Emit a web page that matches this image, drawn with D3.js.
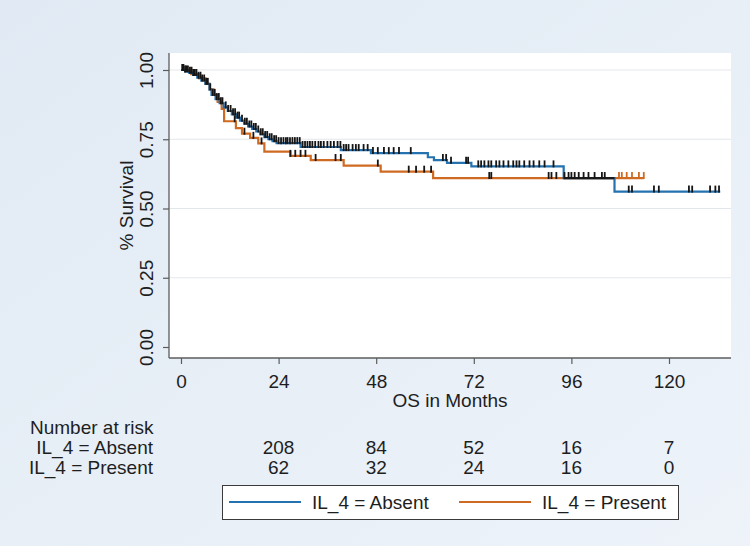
<!DOCTYPE html>
<html>
<head>
<meta charset="utf-8">
<script src="https://cdn.jsdelivr.net/npm/d3@7"></script>
<style>
  html, body { margin: 0; padding: 0; }
  svg { display: block; font-family: "Liberation Sans", Arial, sans-serif; }
</style>
</head>
<body>
<script>
// Kaplan-Meier steps (months, survival after the drop)
const absentTimes = [0, 1, 2, 3, 4, 5, 6, 7, 7.5, 8.5, 9.5, 10.5, 11.5, 12.5, 13.5, 14.5, 15.5, 16.5, 17.5, 18.5, 19.5, 20.5, 21.5, 22.5, 23.5, 29.4, 39.3, 46.7, 60.7, 62.2, 65.4, 71.4, 94.1, 106.6];
const absentSurv = [1.00, 0.995, 0.99, 0.982, 0.972, 0.962, 0.95, 0.93, 0.91, 0.895, 0.88, 0.865, 0.852, 0.84, 0.828, 0.817, 0.806, 0.796, 0.787, 0.778, 0.768, 0.758, 0.75, 0.743, 0.736, 0.722, 0.711, 0.70, 0.685, 0.675, 0.665, 0.652, 0.61, 0.561];
const absentEnd = 132.6;

const presentTimes = [0, 2.5, 4.5, 6, 7, 8, 9, 10, 10.6, 13.5, 15, 17, 19, 20.5, 26.9, 31.9, 40, 49.1, 62];
const presentSurv = [1.00, 0.985, 0.97, 0.95, 0.93, 0.91, 0.885, 0.86, 0.815, 0.79, 0.77, 0.755, 0.735, 0.705, 0.69, 0.675, 0.655, 0.633, 0.61];
const presentEnd = 113.8;

// censoring times (months)
const absentCensor = [0.3, 0.6, 1, 1.3, 1.7, 2.2, 2.6, 3, 3.4, 3.8, 4.3, 4.8, 5.2, 5.7, 6.2, 6.6, 7.2, 7.8, 8.3, 8.8, 9.3, 9.8, 10.2, 11, 11.6, 12.2, 12.8, 13.3, 13.9, 14.3, 15, 15.7, 16.2, 16.8, 17.3, 17.9, 18.4, 19, 19.6, 20.1, 20.7, 21.2, 21.8, 22.3, 22.9, 23.4, 24, 24.6, 25.2, 25.8, 26.2, 26.8, 27.4, 28, 28.6, 29.2, 29.9, 30.5, 31.1, 31.7, 32.3, 33, 33.8, 34.4, 35.1, 36, 36.8, 37.6, 38.5, 39.2, 40, 40.6, 41.2, 42.2, 43, 43.7, 44.9, 45.9, 47.2, 48.4, 49.9, 51.1, 52.3, 53.6, 56.5, 64.4, 65.2, 66.4, 70.1, 70.6, 73.1, 73.8, 74.6, 75.6, 76.3, 77.5, 78.3, 79.3, 80.5, 81.7, 82.5, 83.2, 84.4, 85.7, 86.7, 88.1, 89.4, 91.6, 94.3, 95.3, 96, 96.8, 97.8, 99, 100.2, 101.7, 103.5, 104.2, 110.1, 110.9, 116.3, 117.5, 124.9, 125.7, 130.1, 131.4, 132.3];
const presentCensor = [13.2, 15.6, 17.8, 19.8, 26.9, 28.1, 29.4, 30.6, 33.1, 38, 39.3, 48.4, 56, 57.8, 59.8, 61.5, 75.8, 76.3, 90.4, 91.1, 92.3, 107.7, 108.4, 109.6, 110.9, 112.6, 113.8];

// number at risk table
const riskTimes = [24, 48, 72, 96, 120];
const riskAbsent = [208, 84, 52, 16, 7];
const riskPresent = [62, 32, 24, 16, 0];

const xTicks = [0, 24, 48, 72, 96, 120];
const yTicks = [0, 0.25, 0.5, 0.75, 1];
const groupLabels = ['IL_4 = Absent', 'IL_4 = Present'];

const BLUE = '#2472b0';
const ORANGE = '#cf6a22';
const FS = 19;

function start() {
    const width = 750, height = 546;
    const plot = {left: 169, right: 731, top: 53, bottom: 358};

    const x = d3.scaleLinear().domain([0, 120]).range([181, 669]);
    const y = d3.scaleLinear().domain([0, 1]).range([347, 70]);

    const svg = d3.select('body').append('svg')
        .attr('width', width)
        .attr('height', height);

    const grad = svg.append('defs').append('linearGradient')
        .attr('id', 'bg').attr('x1', 0).attr('y1', 0).attr('x2', 1).attr('y2', 1);
    grad.append('stop').attr('offset', '0%').attr('stop-color', '#e1eaf4');
    grad.append('stop').attr('offset', '100%').attr('stop-color', '#edf3f9');

    svg.append('rect').attr('width', width).attr('height', height).attr('fill', 'url(#bg)');
    svg.append('rect')
        .attr('x', plot.left).attr('y', plot.top)
        .attr('width', plot.right - plot.left).attr('height', plot.bottom - plot.top)
        .attr('fill', '#fff');

    // grid
    svg.append('g').selectAll('line')
        .data(yTicks.filter(d => d > 0))
        .enter().append('line')
        .attr('x1', plot.left).attr('x2', plot.right)
        .attr('y1', d => y(d)).attr('y2', d => y(d))
        .attr('stroke', '#e4e7ea').attr('stroke-width', 1);

    // axes
    const yAxis = d3.axisLeft(y).tickValues(yTicks).tickFormat(d3.format('.2f')).tickSize(6).tickPadding(9);
    const gy = svg.append('g').attr('transform', 'translate(' + plot.left + ',0)').call(yAxis);
    gy.select('.domain').attr('d', 'M0,' + plot.top + 'V' + plot.bottom);
    gy.selectAll('.tick text')
        .attr('transform', 'rotate(-90)')
        .attr('x', 0).attr('y', -16)
        .attr('dy', '0')
        .attr('text-anchor', 'middle');

    const xAxis = d3.axisBottom(x).tickValues(xTicks).tickSize(6).tickPadding(8);
    const gx = svg.append('g').attr('transform', 'translate(0,' + plot.bottom + ')').call(xAxis);
    gx.select('.domain').attr('d', 'M' + plot.left + ',0H' + plot.right);
    gx.selectAll('.tick text').attr('dy', '0').attr('y', 30);

    svg.selectAll('.domain').attr('stroke', '#5c5c5c').attr('stroke-width', 1.3);
    svg.selectAll('.tick line').attr('stroke', '#5c5c5c').attr('stroke-width', 1.2);
    svg.selectAll('.tick text')
        .attr('font-size', FS).attr('fill', '#1e1e1e')
        .attr('font-family', '"Liberation Sans", Arial, sans-serif');

    svg.append('text')
        .attr('transform', 'translate(133,' + ((plot.top + plot.bottom) / 2) + ') rotate(-90)')
        .attr('text-anchor', 'middle')
        .attr('font-size', FS).attr('fill', '#1e1e1e')
        .text('% Survival');

    svg.append('text')
        .attr('x', 450).attr('y', 407)
        .attr('text-anchor', 'middle')
        .attr('font-size', FS).attr('fill', '#1e1e1e')
        .text('OS in Months');

    // step curves
    function steps(times, surv, end) {
        const pts = times.map((t, i) => [t, surv[i]]);
        pts.push([end, surv[surv.length - 1]]);
        return pts;
    }
    function valueAt(times, surv, end, t) {
        if (t > end) return null;
        let v = surv[0];
        for (let i = 0; i < times.length; i++) if (times[i] <= t) v = surv[i];
        return v;
    }

    const line = d3.line().curve(d3.curveStepAfter).x(d => x(d[0])).y(d => y(d[1]));

    const curves = svg.append('g').attr('fill', 'none').attr('stroke-width', 2.2);
    curves.append('path')
        .attr('d', line(steps(presentTimes, presentSurv, presentEnd)))
        .attr('stroke', ORANGE);
    curves.append('path')
        .attr('d', line(steps(absentTimes, absentSurv, absentEnd)))
        .attr('stroke', BLUE);

    // where both curves run at the same level the overlap shows dark
    const allT = Array.from(new Set(absentTimes.concat(presentTimes))).sort((a, b) => a - b);
    const overlap = [];
    allT.forEach((t, i) => {
        const t2 = i < allT.length - 1 ? allT[i + 1] : Math.min(absentEnd, presentEnd);
        const a = valueAt(absentTimes, absentSurv, absentEnd, t);
        const p = valueAt(presentTimes, presentSurv, presentEnd, t);
        if (t > 30 && a !== null && a === p) overlap.push([t, t2, a]);
    });
    curves.append('g').selectAll('line')
        .data(overlap)
        .enter().append('line')
        .attr('x1', d => x(d[0])).attr('x2', d => x(d[1]))
        .attr('y1', d => y(d[2])).attr('y2', d => y(d[2]))
        .attr('stroke', '#1a1a1a');

    // censor ticks
    function drawTicks(ts, times, surv, end, colorFn) {
        svg.append('g').selectAll('line')
            .data(ts)
            .enter().append('line')
            .attr('x1', d => x(d)).attr('x2', d => x(d))
            .attr('y1', d => y(valueAt(times, surv, end, d)) + 1)
            .attr('y2', d => y(valueAt(times, surv, end, d)) - 6)
            .attr('stroke', colorFn)
            .attr('stroke-width', 1.8);
    }
    drawTicks(presentCensor, presentTimes, presentSurv, presentEnd, d => d > 100 ? ORANGE : '#151515');
    drawTicks(absentCensor, absentTimes, absentSurv, absentEnd, () => '#151515');

    // number at risk
    const table = svg.append('g').attr('font-size', FS).attr('fill', '#1e1e1e');
    table.append('text').attr('x', 30).attr('y', 434).text('Number at risk');
    [riskAbsent, riskPresent].forEach((row, i) => {
        const yy = 454 + i * 20;
        table.append('text')
            .attr('x', 153).attr('y', yy)
            .attr('text-anchor', 'end')
            .text(groupLabels[i]);
        table.selectAll('.r' + i)
            .data(row)
            .enter().append('text')
            .attr('class', 'r' + i)
            .attr('x', (d, j) => x(riskTimes[j]))
            .attr('y', yy)
            .attr('text-anchor', 'middle')
            .text(d => d);
    });

    // legend
    const legend = svg.append('g');
    legend.append('rect')
        .attr('x', 222.5).attr('y', 485.5)
        .attr('width', 456).attr('height', 34)
        .attr('fill', '#fff').attr('stroke', '#3a3a3a').attr('stroke-width', 1);
    const items = [
        {label: groupLabels[0], color: BLUE, x0: 229, tx: 312},
        {label: groupLabels[1], color: ORANGE, x0: 459, tx: 542}
    ];
    items.forEach(it => {
        legend.append('line')
            .attr('x1', it.x0).attr('x2', it.x0 + 72)
            .attr('y1', 502).attr('y2', 502)
            .attr('stroke', it.color).attr('stroke-width', 2.2);
        legend.append('text')
            .attr('x', it.tx).attr('y', 509)
            .attr('font-size', FS).attr('fill', '#1e1e1e')
            .text(it.label);
    });
}

document.addEventListener('DOMContentLoaded', () => start());
</script>
</body>
</html>
